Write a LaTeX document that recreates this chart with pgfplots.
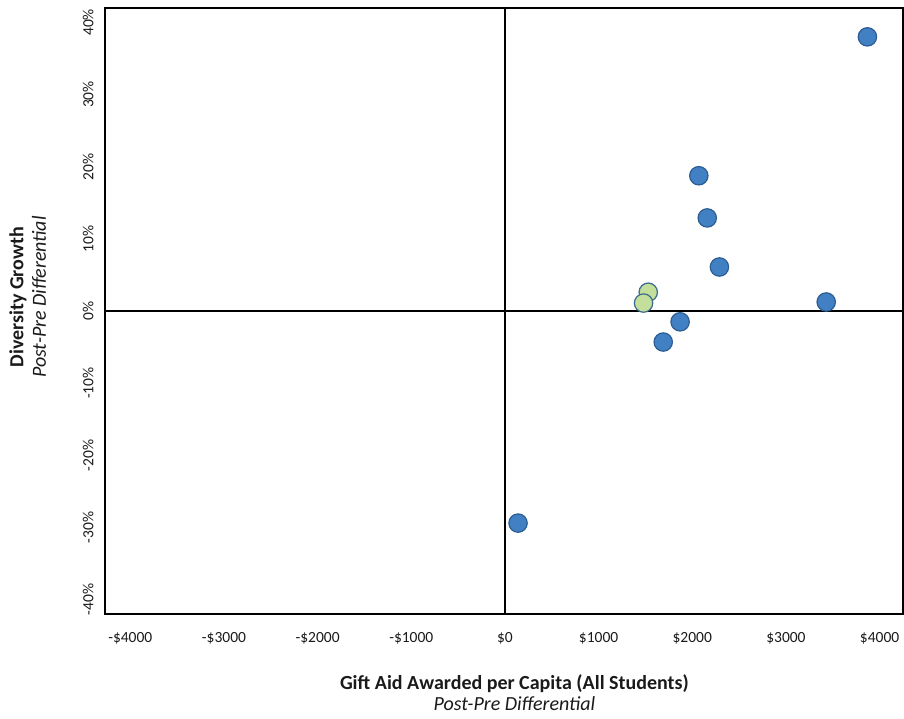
\documentclass[border=0pt]{standalone}
\usepackage{pgfplots}
\pgfplotsset{compat=1.18}
\usepackage{fontspec}
\setmainfont{Carlito}
\definecolor{bluefill}{HTML}{4280C4}
\definecolor{blueedge}{HTML}{2C5D92}
\definecolor{greenfill}{HTML}{C4DF9B}
\definecolor{greenedge}{HTML}{3A6A8E}
\definecolor{txt}{HTML}{1A1A1A}
\begin{document}
\begin{tikzpicture}
\begin{axis}[
  scale only axis, width=798pt, height=606pt,
  xmin=-4270, xmax=4250, ymin=-0.42, ymax=0.42,
  xtick={-4000,-3000,-2000,-1000,0,1000,2000,3000,4000},
  xticklabels={-\$4000,-\$3000,-\$2000,-\$1000,\$0,\$1000,\$2000,\$3000,\$4000},
  ytick={-0.4,-0.3,-0.2,-0.1,0,0.1,0.2,0.3,0.4},
  yticklabels={-40\%,-30\%,-20\%,-10\%,0\%,10\%,20\%,30\%,40\%},
  major tick length=0pt,
  axis line style={line width=1.4pt, black},
  tick label style={font=\fontsize{15.5}{18}\selectfont, text=txt},
  xticklabel style={yshift=-15pt},
  yticklabel style={rotate=90, anchor=south, yshift=8pt},
  xlabel={{\bfseries Gift Aid Awarded per Capita (All Students)}\\{\itshape Post-Pre Differential}},
  xlabel style={align=center, font=\fontsize{20}{21.5}\selectfont, at={(ticklabel cs:0.513)}, anchor=north, yshift=-23pt, text=txt},
  ylabel={{\bfseries Diversity Growth}\\{\itshape Post-Pre Differential}},
  ylabel style={align=center, font=\fontsize{20}{22.5}\selectfont, at={(ticklabel cs:0.523)}, anchor=south, yshift=30pt, text=txt},
  clip=false,
]
\draw[line width=1.4pt, black] (axis cs:0,-0.42) -- (axis cs:0,0.42);
\draw[line width=1.4pt, black] (axis cs:-4270,0) -- (axis cs:4250,0);
\addplot[only marks, mark=*, mark size=9.2pt, mark options={fill=bluefill, draw=blueedge, line width=1.2pt}]
coordinates {
(3870,0.38) (2070,0.1875) (2160,0.129) (2290,0.061) (3430,0.0125)
(1870,-0.015) (1690,-0.043) (140,-0.294)
};
\addplot[only marks, mark=*, mark size=9.2pt, mark options={fill=greenfill, draw=greenedge, line width=1.2pt}]
coordinates {
(1530,0.026) (1480,0.011)
};
\end{axis}
\path (current axis.south west) ++(-105pt,-105pt) rectangle ++(904pt,719pt);
\end{tikzpicture}
\end{document}
